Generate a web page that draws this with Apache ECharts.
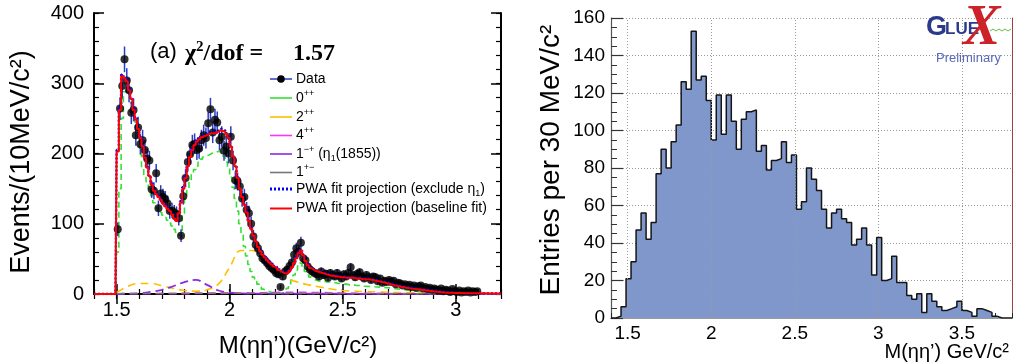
<!DOCTYPE html>
<html><head><meta charset="utf-8">
<script src="https://cdn.jsdelivr.net/npm/echarts@6/dist/echarts.min.js"></script>
<style>html,body{margin:0;padding:0;background:#fff}#c{width:1013px;height:364px}</style>
</head><body><div id="c"></div>
<script>
// ---------- LEFT PANEL: M(eta eta') data, 10 MeV bins, first bin centre 1.505 GeV ----------
const dataBinStart = 1.505, dataBinStep = 0.01;
const dataCounts = [92,264,296,334,304,290,258,262,226,237,
 213,219,205,193,190,149,147,172,122,143,
 138,135,129,118,119,116,114,108,83,139,
 165,188,199,212,214,205,207,219,226,222,
 243,263,230,248,244,219,224,204,210,200,
 224,190,162,160,153,136,138,120,115,100,
 82,70,65,58,51,48,44,40,37,34,
 30,28,10,25,32,35,40,45,56,65,
 60,73,51,48,39,35,32,30,28,25,
 32,27,29,23,30,27,25,30,26,22,
 28,25,30,38,27,24,29,31,25,22,
 27,24,20,25,24,18,22,16,19,17,
 20,17,19,14,16,15,12,14,11,13,
 10,12,9,11,12,8,10,7,9,6,
 8,6,5,8,4,6,5,3,7,4,
 3,5,2,4,3,5,2,4,3,4];

// fit curves, 10 MeV bins (centres 1.505 ... 2.595); zero below threshold 1.50
const threshold = 1.50, leftMin = 1.4, leftMax = 3.2;
const redFit = [203,262,310,307,303,290,278,262,248,235,
 222,210,194,180,168,156,147,142,138,134,
 129,125,121,118,113,107,104,115,130,150,
 165,182,195,205,212,217,220,223,225,226,
 228,229,229,229,231,233,232,231,228,222,
 210,196,182,165,150,138,127,116,104,93,
 83,75,67,61,56,52,48,45,42,39,
 37,34,32,30,29,30,33,38,44,51,
 58,62,55,47,41,37,35,33,32,31,
 30,29,28,27,26,26,25,25,24,24,
 24,23,23,23,23,22,22,22,21,21];
const blueFit = [205,265,312,309,305,292,279,264,250,236,
 223,211,196,181,169,157,148,143,139,135,
 130,126,122,119,114,108,105,116,132,152,
 167,184,197,207,214,219,222,225,227,228,
 230,231,231,231,233,235,234,233,229,223,
 211,197,183,166,151,139,128,117,105,94,
 84,76,68,62,57,53,49,46,43,40,
 38,35,33,31,30,31,34,39,45,52,
 59,63,56,48,42,38,36,34,33,32,
 31,30,29,28,27,27,26,26,25,25,
 25,24,24,24,24,23,23,23,22,22];
const greenFit = [60,150,250,288,290,284,272,260,245,229,
 208,180,168,160,150,140,130,123,119,116,
 112,109,105,101,97,92,88,84,82,115,
 135,150,160,170,177,182,188,192,195,197,
 198,200,201,202,203,203,200,196,188,180,
 166,152,136,118,100,84,68,54,42,32,
 24,18,14,10,7,5,4,3,2,1.5,
 1,1,1,2,4,8,14,20,27,34,
 40,44,38,32,27,24,22,20,19,18,
 18,18,17,17,17,16,16,15,15,14,
 14,14,13,13,13,12,12,12,12,11];
// tails of the fit curves, 50 MeV spacing from 2.60 to 3.20
const tailStart = 2.60, tailStep = 0.05;
const redTail = [21,19,15,11,8,6,4,2,1.5,1,1,0.8,0.8];
const blueTail = [22,20,16,12,9,7,5,3,2,1.2,1,0.9,0.9];
const greenTail = [11,10,9,7,5,3,2,1,0.5,0.3,0.2,0.1,0.1];
// smooth components, 50 MeV spacing from 1.50 to 3.20
const compStart = 1.50, compStep = 0.05;
const yellow2pp = [2,11,15,15,12,8,5,4,6,14,38,62,62,50,34,23,17,13,10,7,5,4,3.5,3,2.5,2,2,1.5,1.5,1,1,1,0.5,0.5,0.5];
const purple1mp = [0,0.5,1,3,6,11,17,20,13,5,2,1,0.5,0.5,0.5,0.5,0.5,0.5,0.5,0.5,0.3,0.3,0.3,0.3,0.3,0.3,0.3,0.3,0.3,0.3,0.3,0.3,0.3,0.3,0.3];
// 100 MeV spacing from 1.50 to 3.20
const smallStart = 1.50, smallStep = 0.1;
const magenta4pp = [0.3,0.3,0.3,0.5,0.8,1,1.5,2.2,2.5,2,1.5,1,0.8,0.5,0.4,0.3,0.3,0.3];
const gray1pm = [0.5,0.8,1,1.2,1.5,1.5,1.2,1,1,0.8,0.6,0.5,0.4,0.3,0.3,0.2,0.2,0.2];

const leftXMajor = [1.5, 2, 2.5, 3];
const leftYMax = 400;

// ---------- RIGHT PANEL: histogram, 30 MeV bins from 1.40 ----------
const histStart = 1.40, histStep = 0.03;
const histCounts = [0,1,6,21,30,47,56,42,51,77,
 90,80,94,103,126,122,153,127,129,116,
 95,119,98,119,105,90,106,110,111,89,
 92,79,84,85,94,83,87,58,62,80,
 74,68,58,48,56,58,53,51,39,42,
 48,39,23,43,20,21,33,19,19,12,
 10,13,3,13,9,6,4,5,6,9,
 4,3,1,5,4,3,1,0,0,0];
const rightXMajor = [1.5, 2, 2.5, 3, 3.5];

// ---------- helpers ----------
const r3 = v => Math.round(v*1000)/1000;
const grid = (s, st, arr) => arr.map((v,i)=>[r3(s+st*i), v]);
const range = (a,b,st) => { const o=[]; for(let v=a; v<=b+1e-9; v+=st) o.push(r3(v)); return o; };
const FONT = 'Liberation Sans, Arial, Helvetica, sans-serif';
const SERIF = 'Liberation Serif, Times New Roman, serif';

const stepData = arr => [[leftMin,0],[r3(threshold-dataBinStep/2),0]].concat(grid(dataBinStart, dataBinStep, arr));
const tailData = (step, tail) => [step[step.length-1]].concat(grid(tailStart, tailStep, tail));

const chart = echarts.init(document.getElementById('c'), null, {renderer:'canvas'});

function xAx(gi, pos, opts){ return Object.assign({type:'value', gridIndex:gi, position:pos, splitLine:{show:false}}, opts); }

const blk = {color:'#000', width:2};
const leftMinor = range(leftMin, leftMax, 0.1);
const rightMinor = range(1.4, 3.8, 0.1);

const xAxes = [
 xAx(0,'bottom',{min:leftMin,max:leftMax,axisLine:{lineStyle:blk},axisTick:{inside:true,length:10,lineStyle:{color:'#000',width:1.5},customValues:leftXMajor},
   axisLabel:{customValues:leftXMajor,fontSize:20,fontFamily:FONT,color:'#000',margin:6}}),
 xAx(0,'bottom',{min:leftMin,max:leftMax,axisLine:{show:false},axisTick:{inside:true,length:5,lineStyle:{color:'#000',width:1.2},customValues:leftMinor},axisLabel:{show:false}}),
 xAx(0,'top',{min:leftMin,max:leftMax,axisLine:{lineStyle:blk},axisTick:{inside:true,length:10,lineStyle:{color:'#000',width:1.5},customValues:leftXMajor},axisLabel:{show:false}}),
 xAx(0,'top',{min:leftMin,max:leftMax,axisLine:{show:false},axisTick:{inside:true,length:5,lineStyle:{color:'#000',width:1.2},customValues:leftMinor},axisLabel:{show:false}}),
 xAx(1,'bottom',{min:1.4,max:3.8,axisLine:{lineStyle:{color:'#333',width:1.2}},axisTick:{inside:true,length:9,lineStyle:{color:'#222',width:1.2},customValues:rightXMajor},
   axisLabel:{customValues:rightXMajor,fontSize:19,fontFamily:FONT,color:'#000',margin:6}}),
 xAx(1,'bottom',{min:1.4,max:3.8,axisLine:{show:false},axisTick:{inside:true,length:5,lineStyle:{color:'#222',width:1},customValues:rightMinor},axisLabel:{show:false}}),
 xAx(1,'top',{min:1.4,max:3.8,axisLine:{lineStyle:{color:'#9a9a9a',width:1}},axisTick:{show:false},axisLabel:{show:false}})
];
function yAx(gi,pos,opts){ return Object.assign({type:'value', gridIndex:gi, position:pos, splitLine:{show:false}}, opts); }
const yAxes = [
 yAx(0,'left',{min:0,max:leftYMax,interval:100,axisLine:{show:true,lineStyle:blk},axisTick:{inside:true,length:10,lineStyle:{color:'#000',width:1.5}},
   axisLabel:{fontSize:20,fontFamily:FONT,color:'#000',margin:10}}),
 yAx(0,'left',{min:0,max:leftYMax,interval:20,axisLine:{show:false},axisTick:{inside:true,length:5,lineStyle:{color:'#000',width:1.2}},axisLabel:{show:false}}),
 yAx(0,'right',{min:0,max:leftYMax,interval:100,axisLine:{show:true,lineStyle:blk},axisTick:{inside:true,length:10,lineStyle:{color:'#000',width:1.5}},axisLabel:{show:false}}),
 yAx(0,'right',{min:0,max:leftYMax,interval:20,axisLine:{show:false},axisTick:{inside:true,length:5,lineStyle:{color:'#000',width:1.2}},axisLabel:{show:false}}),
 yAx(1,'left',{min:0,max:160,interval:20,axisLine:{show:true,lineStyle:{color:'#555',width:1.2}},axisTick:{inside:true,length:12,lineStyle:{color:'#333',width:1.2}},
   axisLabel:{fontSize:19,fontFamily:FONT,color:'#000',margin:6},
   splitLine:{show:true,lineStyle:{color:'#9a9a9a',width:1,type:[1,2]}}}),
 yAx(1,'left',{min:0,max:160,interval:5,axisLine:{show:false},axisTick:{inside:true,length:6,lineStyle:{color:'#333',width:1}},axisLabel:{show:false}}),
 yAx(1,'right',{min:0,max:160,interval:20,axisLine:{show:true,lineStyle:{color:'#a04040',width:1}},axisTick:{show:false},axisLabel:{show:false}})
];

function curve(data, color, width, type, z, extra){
  return Object.assign({type:'line', xAxisIndex:0, yAxisIndex:0, data, symbol:'none', silent:true, z,
    lineStyle:{color, width, type}}, extra||{});
}

const dataPts = dataCounts.map((v,i)=>[r3(dataBinStart+dataBinStep*i), v, Math.sqrt(v)]);

const series = [
  curve(stepData(greenFit), '#33e033', 1.6, [6,4], 2, {step:'middle'}),
  curve(tailData(stepData(greenFit), greenTail), '#33e033', 1.6, [6,4], 2, {smooth:0.3}),
  curve(grid(compStart, compStep, yellow2pp), '#ffbf00', 1.6, [8,5], 2, {smooth:0.4}),
  curve(grid(smallStart, smallStep, magenta4pp), '#ff33ff', 1.6, [8,5], 2, {smooth:0.4}),
  curve(grid(compStart, compStep, purple1mp), '#8a2be2', 1.8, [8,5], 2, {smooth:0.4}),
  curve(grid(smallStart, smallStep, gray1pm), '#777777', 1.4, [8,5], 2, {smooth:0.4}),
  {type:'custom', xAxisIndex:0, yAxisIndex:0, data:dataPts, z:3, silent:true, clip:true,
    renderItem:(p, api)=>{
      const x=api.value(0), y=api.value(1), e=api.value(2);
      const a=api.coord([x, Math.max(0,y-e)]), b=api.coord([x, y+e]);
      return {type:'line', shape:{x1:a[0],y1:a[1],x2:b[0],y2:b[1]}, style:{stroke:'#2a3bc4', lineWidth:1.5}};
    }},
  {type:'scatter', xAxisIndex:0, yAxisIndex:0, data:dataPts.map(d=>[d[0],d[1]]), symbol:'circle', symbolSize:8, z:4, silent:true,
    itemStyle:{color:'#000'}},
  curve(stepData(blueFit), '#0000ff', 2.4, [2,2], 5, {step:'middle'}),
  curve(tailData(stepData(blueFit), blueTail), '#0000ff', 2.4, [2,2], 5, {smooth:0.3}),
  curve(stepData(redFit), '#ff0000', 2, 'solid', 6, {step:'middle'}),
  curve(tailData(stepData(redFit), redTail), '#ff0000', 2, 'solid', 6, {smooth:0.3}),
  {type:'scatter', xAxisIndex:4, yAxisIndex:4, data:[], z:1, silent:true,
    markLine:{silent:true, symbol:'none', label:{show:false}, animation:false,
      lineStyle:{color:'#9a9a9a', width:1, type:[1,2]},
      data: rightXMajor.map(v=>({xAxis:v}))}},
  {type:'line', xAxisIndex:4, yAxisIndex:4, step:'end', symbol:'none', silent:true, z:2,
    data: grid(histStart, histStep, histCounts).concat([[r3(histStart+histStep*histCounts.length), histCounts[histCounts.length-1]]]),
    lineStyle:{color:'#151515', width:1.5}, areaStyle:{color:'#7f97ca', opacity:1}}
];

// ---------- text / legend graphics ----------
const G = [];
function txt(x,y,text,font,fill,align,va,extra){ G.push(Object.assign({type:'text', x, y, silent:true, z:100,
  style:{text, font, fill:fill||'#000', align:align||'left', verticalAlign:va||'middle'}}, extra||{})); }

txt(150, 52, '(a)', '22px '+FONT);
G.push({type:'text', x:185, y:53, z:100, silent:true, style:{text:'{g|χ}{s|2}{g|/dof =}', fill:'#000', align:'left', verticalAlign:'middle',
  rich:{g:{font:'bold 24px '+SERIF, lineHeight:26, verticalAlign:'bottom'}, s:{font:'bold 15px '+SERIF, lineHeight:16, verticalAlign:'top'}}}});
txt(293, 54, '1.57', 'bold 24px '+SERIF);

const legRows = [79, 98, 117, 135.5, 154, 172.5, 189, 208.5];
const legX1 = 270, legX2 = 292, legTX = 296;
const rich = {n:{font:'14px '+FONT, lineHeight:18, verticalAlign:'middle'}, s:{font:'9px '+FONT, lineHeight:9, verticalAlign:'top'}, b:{font:'9px '+FONT, lineHeight:9, verticalAlign:'bottom'}};
const legItems = [
  {t:'{n|Data}', c:'#2a3bc4', d:'solid', w:1.5},
  {t:'{n|0}{s|++}', c:'#33e033', d:'solid', w:1.6},
  {t:'{n|2}{s|++}', c:'#ffbf00', d:'solid', w:1.6},
  {t:'{n|4}{s|++}', c:'#ff33ff', d:'solid', w:1.6},
  {t:'{n|1}{s|−+}{n| (η}{b|1}{n|(1855))}', c:'#8a2be2', d:'solid', w:1.6},
  {t:'{n|1}{s|+−}', c:'#777777', d:'solid', w:1.6},
  {t:'{n|PWA fit projection (exclude η}{b|1}{n|)}', c:'#0000ff', d:[2,2], w:3},
  {t:'{n|PWA fit projection (baseline fit)}', c:'#ff0000', d:'solid', w:2}
];
legItems.forEach((it,i)=>{
  const y = legRows[i];
  G.push({type:'line', silent:true, z:100, shape:{x1:legX1,y1:y,x2:legX2,y2:y}, style:{stroke:it.c, lineWidth:it.w, lineDash:it.d==='solid'?null:it.d}});
  G.push({type:'text', x:legTX, y:y, silent:true, z:100, style:{text:it.t, rich, fill:'#000', align:'left', verticalAlign:'middle'}});
});
G.push({type:'circle', silent:true, z:101, shape:{cx:(legX1+legX2)/2, cy:legRows[0], r:3.8}, style:{fill:'#000'}});

G.push({type:'text', x:22, y:162, rotation:Math.PI/2, silent:true, z:100,
  style:{text:'Events/(10MeV/c²)', font:'27px '+FONT, fill:'#000', align:'center', verticalAlign:'middle'}});
txt(298, 346, 'M(ηη’)(GeV/c²)', '24px '+FONT, '#000', 'center');
G.push({type:'text', x:551, y:160, rotation:Math.PI/2, silent:true, z:100,
  style:{text:'Entries per 30 MeV/c²', font:'28px '+FONT, fill:'#000', align:'center', verticalAlign:'middle'}});
txt(1009, 352, 'M(ηη’) GeV/c²', '20px '+FONT, '#000', 'right');

// GlueX logo
txt(926, 28, 'G', 'bold 27px '+FONT, '#2c3a8c');
txt(945, 29, 'LUE', 'bold 17px '+FONT, '#2c3a8c');
txt(963, 30, 'X', 'italic bold 56px '+SERIF, '#cc2229');
G.push({type:'polyline', silent:true, z:100, shape:{points:[[990,31],[993,29],[996,31],[999,29],[1002,31],[1005,29],[1008,31],[1011,29]]},
  style:{stroke:'#66bb44', lineWidth:1, fill:null}});
txt(936, 58, 'Preliminary', '13px '+FONT, '#5a68b8');

chart.setOption({
  animation:false,
  backgroundColor:'#fff',
  grid:[
    {left:94, top:13, width:407, height:281, containLabel:false, outerBoundsMode:'none'},
    {left:611, top:18, width:401, height:300, containLabel:false, outerBoundsMode:'none'}
  ],
  xAxis:xAxes, yAxis:yAxes, series, graphic:G
});
</script></body></html>
